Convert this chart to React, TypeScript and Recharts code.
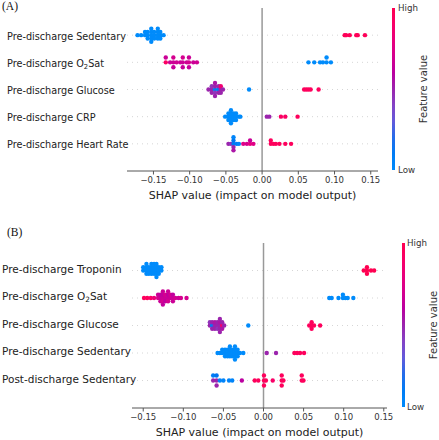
import { ReferenceLine, Scatter, ScatterChart, XAxis, YAxis } from "recharts";

// [shap value, feature value (0 = low, 1 = high)]
type Pt = [number, number];

const xTicks = [-0.15, -0.1, -0.05, 0, 0.05, 0.1, 0.15];

const aLabels = [
    "Pre-discharge Sedentary",
    "Pre-discharge O2Sat",
    "Pre-discharge Glucose",
    "Pre-discharge CRP",
    "Pre-discharge Heart Rate",
];

const aSedentary: Pt[] = [
    [-0.172, 0], [-0.167, 0], [-0.1616, 0], [-0.1616, 0],
    [-0.158, 0], [-0.158, 0], [-0.158, 0],
    [-0.153, 0], [-0.153, 0], [-0.153, 0], [-0.153, 0], [-0.153, 0],
    [-0.149, 0], [-0.149, 0], [-0.149, 0],
    [-0.144, 0], [-0.144, 0], [-0.144, 0], [-0.144, 0],
    [-0.1405, 0], [-0.1405, 0], [-0.1405, 0], [-0.136, 0],
    [0.114, 0.97], [0.116, 0.97], [0.121, 0.97], [0.13, 0.97], [0.132, 0.97], [0.142, 0.97],
];
const aO2Sat: Pt[] = [
    [-0.133, 0.92], [-0.133, 0.66], [-0.127, 0.66],
    [-0.1225, 0.66], [-0.1225, 0.7], [-0.1225, 0.64],
    [-0.118, 0.68], [-0.113, 0.66],
    [-0.1095, 0.66], [-0.1095, 0.7], [-0.1095, 0.64],
    [-0.104, 0.66], [-0.101, 0.7], [-0.101, 0.66], [-0.101, 0.64],
    [-0.095, 0.66], [-0.09, 0.68],
    [0.064, 0], [0.072, 0], [0.08, 0], [0.084, 0], [0.089, 0], [0.089, 0], [0.095, 0],
];
const aGlucose: Pt[] = [
    [-0.074, 0.5],
    [-0.0695, 0.5], [-0.0695, 0.45], [-0.0695, 0.5],
    [-0.065, 0.1], [-0.065, 0.5], [-0.065, 0.45], [-0.065, 0.55], [-0.065, 0.5],
    [-0.06, 0.1], [-0.06, 0.5], [-0.06, 0.5],
    [-0.057, 0.5], [-0.057, 0.85], [-0.057, 0.5],
    [-0.054, 0.5],
    [-0.018, 0],
    [0.058, 0.95], [0.061, 0.95], [0.064, 0.95], [0.067, 0.95], [0.078, 0.95],
];
const aCRP: Pt[] = [
    [-0.051, 0],
    [-0.0465, 0], [-0.0465, 0], [-0.0465, 0],
    [-0.043, 0], [-0.043, 0], [-0.043, 0], [-0.043, 0], [-0.043, 0],
    [-0.0395, 0], [-0.0395, 0], [-0.0395, 0],
    [-0.036, 0], [-0.036, 0], [-0.036, 0],
    [-0.032, 0], [-0.03, 0],
    [0.0065, 0.5], [0.01, 0.5],
    [0.026, 0.92], [0.032, 0.92], [0.049, 0.95],
];
const aHeartRate: Pt[] = [
    [-0.0465, 0.5], [-0.043, 0.45],
    [-0.0395, 0.1], [-0.0395, 0.15], [-0.0395, 0.5], [-0.0395, 0.05], [-0.0395, 0.55],
    [-0.035, 0.1], [-0.032, 0.05],
    [-0.026, 0.75], [-0.021, 0.7], [-0.0166, 0.8], [-0.0166, 0.65], [-0.012, 0.75],
    [0.012, 0.95], [0.012, 0.95], [0.0157, 0.95], [0.019, 0.95], [0.024, 0.95],
    [0.032, 0.95], [0.04, 0.95],
];

const bLabels = [
    "Pre-discharge Troponin",
    "Pre-discharge O2Sat",
    "Pre-discharge Glucose",
    "Pre-discharge Sedentary",
    "Post-discharge Sedentary",
];

const bTroponin: Pt[] = [
    [-0.15, 0], [-0.15, 0],
    [-0.146, 0], [-0.146, 0], [-0.146, 0], [-0.146, 0],
    [-0.143, 0], [-0.143, 0], [-0.143, 0],
    [-0.1398, 0], [-0.1398, 0], [-0.1398, 0], [-0.1398, 0],
    [-0.1365, 0], [-0.1365, 0], [-0.1365, 0], [-0.1365, 0],
    [-0.1335, 0], [-0.1335, 0], [-0.1335, 0], [-0.1335, 0], [-0.1335, 0],
    [-0.1306, 0], [-0.1306, 0], [-0.1306, 0],
    [-0.1273, 0], [-0.1273, 0],
    [0.125, 1], [0.129, 1], [0.129, 1], [0.129, 1], [0.134, 1], [0.138, 1],
];
const bO2Sat: Pt[] = [
    [-0.149, 0.95], [-0.145, 0.95], [-0.1406, 0.9], [-0.1365, 0.82],
    [-0.1315, 0.72], [-0.1315, 0.66],
    [-0.1285, 0.66], [-0.1285, 0.62], [-0.1285, 0.66],
    [-0.1255, 0.66], [-0.1255, 0.62], [-0.1255, 0.7], [-0.1255, 0.66], [-0.1255, 0.62],
    [-0.1225, 0.66], [-0.1225, 0.7], [-0.1225, 0.62],
    [-0.119, 0.66], [-0.119, 0.62], [-0.119, 0.7], [-0.119, 0.66],
    [-0.116, 0.66], [-0.116, 0.7],
    [-0.113, 0.66], [-0.113, 0.62], [-0.113, 0.66],
    [-0.11, 0.7], [-0.106, 0.66], [-0.103, 0.7], [-0.096, 0.7],
    [0.082, 0], [0.085, 0], [0.0935, 0], [0.099, 0], [0.099, 0], [0.102, 0], [0.105, 0], [0.112, 0],
];
const bGlucose: Pt[] = [
    [-0.0669, 0.5], [-0.0669, 0.45],
    [-0.064, 0.1], [-0.064, 0.5], [-0.064, 0.5],
    [-0.0606, 0.5], [-0.0606, 0.55], [-0.0606, 0.5],
    [-0.0573, 0.5], [-0.0573, 0.5], [-0.0573, 0.45],
    [-0.0544, 0.5], [-0.0544, 0.55], [-0.0544, 0.5], [-0.0544, 0.5], [-0.0544, 0.5],
    [-0.0515, 0.9], [-0.0515, 0.5], [-0.0515, 0.55],
    [-0.049, 0.5],
    [-0.019, 0],
    [0.057, 0.95], [0.06, 0.95], [0.06, 0.95], [0.06, 0.95], [0.063, 0.95], [0.0706, 0.95],
];
const bSedentary: Pt[] = [
    [-0.0573, 0], [-0.0544, 0], [-0.0515, 0], [-0.0515, 0],
    [-0.048, 0], [-0.048, 0], [-0.048, 0],
    [-0.0448, 0], [-0.0448, 0], [-0.0448, 0],
    [-0.0419, 0], [-0.0419, 0], [-0.0419, 0], [-0.0419, 0],
    [-0.039, 0], [-0.039, 0], [-0.039, 0],
    [-0.0356, 0], [-0.0356, 0], [-0.0356, 0], [-0.0356, 0], [-0.0356, 0],
    [-0.0323, 0], [-0.0323, 0], [-0.0323, 0],
    [-0.0294, 0], [-0.0252, 0],
    [0.004, 0.5], [0.0156, 0.5],
    [0.0385, 0.95], [0.042, 0.95], [0.0456, 0.95], [0.0506, 0.95],
];
const bPostSedentary: Pt[] = [
    [-0.0628, 0.5], [-0.0628, 0.1],
    [-0.0585, 0.5], [-0.0585, 0.15], [-0.0585, 0.5],
    [-0.0544, 0.05], [-0.05, 0.05], [-0.043, 0.05], [-0.039, 0.05], [-0.027, 0.6],
    [-0.011, 0.95], [-0.0065, 0.95],
    [0.0006, 0.95], [0.0006, 0.95], [0.0006, 0.95], [0.003, 0.95], [0.0115, 0.9],
    [0.0227, 0.95], [0.0227, 0.95], [0.0227, 0.95], [0.0248, 0.95],
    [0.0477, 0.95], [0.0477, 0.95], [0.0498, 0.95],
];

// shap's red_blue colormap (interpolated in LCh)
function shapColor(t: number) {
    const L = t < 0.5 ? 54 - 14 * (t / 0.5) : 40 + 14 * ((t - 0.5) / 0.5);
    const C = 70 + 20 * t;
    const h = 4.6588 + (0.35470565 + 2 * Math.PI - 4.6588) * t;
    const a = C * Math.cos(h);
    const b = C * Math.sin(h);
    const fy = (L + 16) / 116;
    const fx = fy + a / 500;
    const fz = fy - b / 200;
    const inv = (v: number) => (v ** 3 > 0.008856 ? v ** 3 : (v - 16 / 116) / 7.787);
    const X = 0.95047 * inv(fx);
    const Y = inv(fy);
    const Z = 1.08883 * inv(fz);
    const lin = [
        3.2406 * X - 1.5372 * Y - 0.4986 * Z,
        -0.9689 * X + 1.8758 * Y + 0.0415 * Z,
        0.0557 * X - 0.204 * Y + 1.057 * Z,
    ];
    const rgb = lin.map((v) => {
        const g = v > 0.0031308 ? 1.055 * Math.pow(v, 1 / 2.4) - 0.055 : 12.92 * v;
        return Math.round(Math.min(1, Math.max(0, g)) * 255);
    });
    return `rgb(${rgb.join(",")})`;
}

// same stacking as shap's beeswarm
function swarm(points: Pt[], row: number) {
    const vals = points.map((p) => p[0]);
    const min = Math.min(...vals);
    const max = Math.max(...vals);
    const quant = vals.map((v) => Math.round((100 * (v - min)) / (max - min + 1e-8)));
    const order = vals.map((_, i) => i).sort((i, j) => quant[i] - quant[j] || i - j);
    const ys = vals.map(() => 0);
    let layer = 0;
    let last = -1;
    for (const i of order) {
        if (quant[i] !== last) layer = 0;
        ys[i] = Math.ceil(layer / 2) * ((layer % 2) * 2 - 1);
        layer++;
        last = quant[i];
    }
    const scale = 0.9 * (0.4 / Math.max(...ys.map((y) => y + 1)));
    return points.map((p, i) => ({ x: p[0], y: row + ys[i] * scale, color: shapColor(p[1]) }));
}

const font = "'DejaVu Sans', sans-serif";

const Dot = (props: any) => (
    <circle cx={props.cx} cy={props.cy} r={2.2} fill={props.payload.color} />
);

function FeatureLabel({ text, x, y, size }: { text: string; x: number; y: number; size: number }) {
    const parts = text.split("O2");
    return (
        <text x={x} y={y} dy="0.35em" fontSize={size} fill="#222" fontFamily={font}>
            {parts.length > 1 ? (
                <>
                    {parts[0]}O
                    <tspan fontSize={size * 0.7} dy="0.3em">2</tspan>
                    <tspan dy="-0.21em">{parts[1]}</tspan>
                </>
            ) : (
                text
            )}
        </text>
    );
}

type PanelProps = {
    labels: string[];
    rows: Pt[][];
    domain: [number, number];
    margin: { top: number; right: number; bottom: number; left: number };
    yWidth: number;
    labelX: number;
    labelSize: number;
    labelDy: number;
};

function Panel({ labels, rows, domain, margin, yWidth, labelX, labelSize, labelDy }: PanelProps) {
    const n = labels.length;
    const data = rows.flatMap((pts, i) => swarm(pts, n - 1 - i));
    return (
        <ScatterChart width={439} height={220} margin={margin}>
            <XAxis
                type="number"
                dataKey="x"
                domain={domain}
                ticks={xTicks}
                allowDataOverflow
                height={28}
                stroke="#555"
                tickSize={3.5}
                tickFormatter={(v: number) => v.toFixed(2).replace("-", "\u2212")}
                tick={{ fontSize: 8.5, fill: "#333", fontFamily: font }}
                label={{
                    value: "SHAP value (impact on model output)",
                    position: "insideBottom",
                    offset: 0,
                    fontSize: 11,
                    fill: "#222",
                    fontFamily: font,
                }}
            />
            <YAxis
                type="number"
                dataKey="y"
                domain={[-1, n]}
                ticks={labels.map((_, i) => i)}
                width={yWidth}
                axisLine={false}
                tickLine={false}
                tick={(p: any) => (
                    <FeatureLabel
                        key={p.index}
                        text={labels[n - 1 - p.payload.value]}
                        x={labelX}
                        y={p.y + labelDy}
                        size={labelSize}
                    />
                )}
            />
            {labels.map((_, i) => (
                <ReferenceLine key={i} y={i} stroke="#ccc" strokeWidth={0.8} strokeDasharray="1 4" />
            ))}
            <ReferenceLine x={0} stroke="#999" strokeWidth={1.5} />
            <Scatter data={data} isAnimationActive={false} shape={Dot} />
        </ScatterChart>
    );
}

const gradient = `linear-gradient(to top, ${[0, 0.1, 0.2, 0.3, 0.4, 0.5, 0.6, 0.7, 0.8, 0.9, 1]
    .map((t) => `${shapColor(t)} ${t * 100}%`)
    .join(", ")})`;

function ColorBar({ x, top, bottom, labelX, titleX, size }: any) {
    const txt = { position: "absolute" as const, fontFamily: font, fontSize: size, color: "#333", whiteSpace: "nowrap" as const };
    return (
        <>
            <div style={{ position: "absolute", left: x, top, width: 3, height: bottom - top, background: gradient }} />
            <div style={{ ...txt, left: labelX, top: top - size * 0.6 }}>High</div>
            <div style={{ ...txt, left: labelX, top: bottom - size * 0.6 }}>Low</div>
            <div
                style={{
                    ...txt,
                    fontSize: 10,
                    left: titleX,
                    top: (top + bottom) / 2,
                    transform: "translate(-50%, -50%) rotate(-90deg)",
                }}
            >
                Feature value
            </div>
        </>
    );
}

export default function App() {
    const title = { position: "absolute" as const, fontFamily: "'Liberation Serif', serif", fontSize: 11.5, color: "#111" };
    return (
        <div style={{ position: "absolute", left: 0, top: 0, width: 439, height: 440, overflow: "hidden", background: "#fff" }}>
            <div style={{ position: "absolute", left: 0, top: 0 }}>
                <Panel
                    labels={aLabels}
                    rows={[aSedentary, aO2Sat, aGlucose, aCRP, aHeartRate]}
                    domain={[-0.1865, 0.16]}
                    margin={{ top: 8, right: 61, bottom: 21, left: 0 }}
                    yWidth={127}
                    labelX={7}
                    labelSize={9.7}
                    labelDy={1}
                />
            </div>
            <div style={{ position: "absolute", left: 0, top: 220 }}>
                <Panel
                    labels={bLabels}
                    rows={[bTroponin, bO2Sat, bGlucose, bSedentary, bPostSedentary]}
                    domain={[-0.164, 0.154]}
                    margin={{ top: 23, right: 52, bottom: 4, left: 0 }}
                    yWidth={132}
                    labelX={2}
                    labelSize={10.5}
                    labelDy={-1.5}
                />
            </div>
            <div style={{ ...title, left: 2, top: 0 }}>(A)</div>
            <div style={{ ...title, left: 7, top: 226 }}>(B)</div>
            <ColorBar x={392} top={8} bottom={170} labelX={398} titleX={423} size={8.7} />
            <ColorBar x={402} top={243} bottom={407} labelX={407} titleX={433} size={8.7} />
        </div>
    );
}
